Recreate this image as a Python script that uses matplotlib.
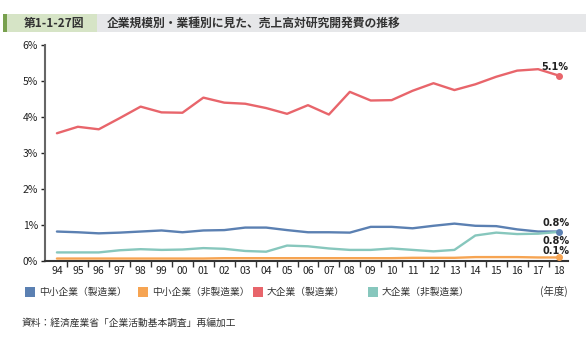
import matplotlib
matplotlib.use("Agg")
import matplotlib.pyplot as plt
from matplotlib.patches import Rectangle

plt.rcParams["font.family"] = ["Noto Sans CJK JP", "DejaVu Sans"]

years = ["94", "95", "96", "97", "98", "99", "00", "01", "02", "03", "04", "05", "06",
         "07", "08", "09", "10", "11", "12", "13", "14", "15", "16", "17", "18"]

small_mfg = [0.81, 0.79, 0.76, 0.78, 0.81, 0.84, 0.79, 0.84, 0.85, 0.92, 0.92, 0.85, 0.79,
             0.79, 0.78, 0.94, 0.94, 0.90, 0.97, 1.03, 0.97, 0.96, 0.87, 0.81, 0.81]
small_nonmfg = [0.06, 0.06, 0.06, 0.06, 0.06, 0.06, 0.06, 0.06, 0.07, 0.07, 0.07, 0.07, 0.07,
                0.07, 0.07, 0.07, 0.07, 0.08, 0.08, 0.08, 0.10, 0.10, 0.10, 0.09, 0.09]
large_mfg = [3.54, 3.72, 3.65, 3.96, 4.28, 4.12, 4.11, 4.53, 4.39, 4.36, 4.24, 4.08, 4.32,
             4.06, 4.69, 4.45, 4.46, 4.72, 4.93, 4.74, 4.90, 5.11, 5.28, 5.32, 5.14]
large_nonmfg = [0.23, 0.23, 0.23, 0.29, 0.32, 0.30, 0.31, 0.35, 0.33, 0.27, 0.25, 0.42, 0.40,
                0.34, 0.30, 0.30, 0.34, 0.30, 0.26, 0.30, 0.70, 0.78, 0.74, 0.75, 0.80]

labels = ["中小企業（製造業）", "中小企業（非製造業）", "大企業（製造業）", "大企業（非製造業）"]
colors = ["#5b80b2", "#f6a452", "#e8656b", "#87c7bd"]
end_labels = ["0.8%", "0.1%", "5.1%", "0.8%"]

W, H = 586, 338
fig = plt.figure(figsize=(W / 100, H / 100), dpi=100)

# title bar
fig.patches.append(Rectangle((3 / W, 1 - 32 / H), 583 / W, 18 / H, transform=fig.transFigure,
                             facecolor="#e6e7e9", edgecolor="none"))
fig.patches.append(Rectangle((3 / W, 1 - 32 / H), 94 / W, 18 / H, transform=fig.transFigure,
                             facecolor="#d6e4c6", edgecolor="none"))
fig.patches.append(Rectangle((3 / W, 1 - 32 / H), 4 / W, 18 / H, transform=fig.transFigure,
                             facecolor="#78a04e", edgecolor="none"))
fig.text(54 / W, 1 - 23 / H, "第1-1-27図", ha="center", va="center", fontsize=8.5,
         fontweight="bold", color="#333333")
fig.text(107 / W, 1 - 23 / H, "企業規模別・業種別に見た、売上高対研究開発費の推移", ha="left",
         va="center", fontsize=8.5, fontweight="bold", color="#333333")

ax = fig.add_axes([45 / W, 1 - 260.7 / H, 523 / W, 216 / H])
x = list(range(len(years)))
series = [small_mfg, small_nonmfg, large_mfg, large_nonmfg]
order = [2, 3, 0, 1]
for i in order:
    ax.plot(x, series[i], color=colors[i], lw=1.7, solid_capstyle="round", zorder=3 + i)
for i in [0, 1, 2]:
    ax.plot(x[-1], series[i][-1], "o", color=colors[i], ms=4, zorder=8)

ax.set_xlim(-0.57, 24.43)
ax.set_ylim(0, 6)
ax.set_yticks(range(7))
ax.set_yticklabels([f"{v}%" for v in range(7)])
ax.set_xticks(x)
ax.set_xticklabels(years)
ax.tick_params(axis="x", length=0, labelsize=7.5, pad=4, colors="#222222")
ax.set_xticks([i + 0.5 for i in range(24)], minor=True)
ax.tick_params(axis="x", which="minor", length=4, width=1, color="#333333", direction="out")
ax.tick_params(axis="y", length=3, width=1, labelsize=7.5, colors="#222222", pad=2)
for s in ["top", "right"]:
    ax.spines[s].set_visible(False)
ax.spines["left"].set_color("#666666")
ax.spines["left"].set_linewidth(1.5)
ax.spines["bottom"].set_color("#333333")
ax.spines["bottom"].set_linewidth(1.5)

# end labels (offsets in points from the last point)
offsets = [(-2, 6.5), (-2, 4.3), (-3, 6.5), (-2, -6.3)]
for i, (dx, dy) in enumerate(offsets):
    ax.annotate(end_labels[i], (x[-1], series[i][-1]), xytext=(dx, dy), textcoords="offset points",
                ha="center", va="center", fontsize=7, fontweight="bold", family="DejaVu Sans",
                color="#222222", zorder=9)

# legend
leg_x = [25, 138, 253, 368]
for lx, lab, c in zip(leg_x, labels, colors):
    fig.patches.append(Rectangle((lx / W, 1 - 297 / H), 10 / W, 10 / H, transform=fig.transFigure,
                                 facecolor=c, edgecolor="none"))
    fig.text((lx + 14) / W, 1 - 292 / H, lab, ha="left", va="center", fontsize=7, color="#333333")
fig.text(568 / W, 1 - 291 / H, "(年度)", ha="right", va="center", fontsize=7.5, color="#333333")

fig.text(22 / W, 1 - 323 / H, "資料：経済産業省「企業活動基本調査」再編加工", ha="left", va="center",
         fontsize=7, color="#333333")

fig.savefig("out.png", dpi=100)
